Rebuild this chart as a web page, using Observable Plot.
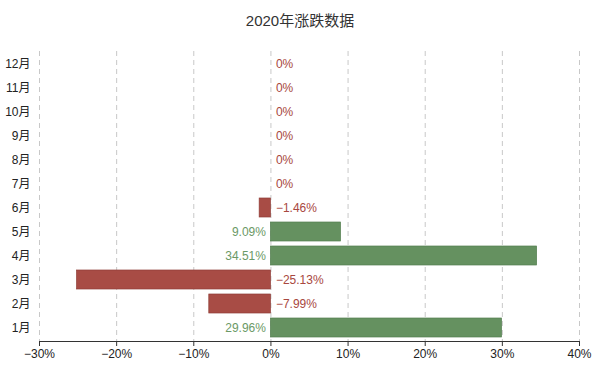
<!DOCTYPE html>
<html><head><meta charset="utf-8">
<script src="https://cdn.jsdelivr.net/npm/d3@7"></script>
<script src="https://cdn.jsdelivr.net/npm/@observablehq/plot@0.6"></script>
<style>
body{margin:0;background:#fff;font-family:"Liberation Sans","Noto Sans CJK SC",sans-serif;}
#title{height:40px;line-height:42px;text-align:center;font-size:15px;color:#333;}
</style></head><body>
<div id="title">2020年涨跌数据</div>
<div id="chart"></div>
<script>
const months = ["1月","2月","3月","4月","5月","6月","7月","8月","9月","10月","11月","12月"];
const values = [29.96, -7.99, -25.13, 34.51, 9.09, -1.46, 0, 0, 0, 0, 0, 0];
const xTicks = [-30, -20, -10, 0, 10, 20, 30, 40];

const data = months.map((m, i) => ({month: m, value: values[i]}));
const pos = data.filter(d => d.value > 0);
const neg = data.filter(d => d.value <= 0);
const up = "#659160", down = "#a84c45";
const fmt = v => String(v).replace("-", "−") + "%";

const chart = Plot.plot({
  width: 600, height: 339,
  marginTop: 11, marginBottom: 38, marginLeft: 39, marginRight: 21,
  style: {fontFamily: '"Liberation Sans","Noto Sans CJK SC",sans-serif', fontSize: "12px", color: "#222", background: "#fff"},
  x: {domain: [-30, 40], ticks: xTicks, tickFormat: fmt},
  y: {domain: months.slice().reverse(), paddingInner: 0.2, paddingOuter: 0.1, label: null},
  marks: [
    Plot.gridX(xTicks, {stroke: "#c8c8c8", strokeOpacity: 1, strokeDasharray: "5,4"}),
    Plot.barX(data, {x: "value", y: "month", fill: d => d.value >= 0 ? up : down,
      stroke: d => d.value >= 0 ? "#557f51" : "#8f3d37", strokeWidth: 0.7}),
    Plot.text(pos, {x: 0, y: "month", text: d => fmt(d.value), textAnchor: "end", dx: -5, fill: "#6b9966", fontSize: 12}),
    Plot.text(neg, {x: 0, y: "month", text: d => fmt(d.value), textAnchor: "start", dx: 5, fill: "#a84740", fontSize: 12}),
    Plot.axisY({tickSize: 0, tickPadding: 9, label: null, fill: "#222"}),
    Plot.axisX({ticks: xTicks, tickFormat: fmt, tickSize: 5, tickPadding: 3, label: null, fill: "#222", stroke: "#333"}),
    Plot.frame({anchor: "bottom", stroke: "#333"})
  ]
});
document.getElementById("chart").appendChild(chart);
</script>
</body></html>
